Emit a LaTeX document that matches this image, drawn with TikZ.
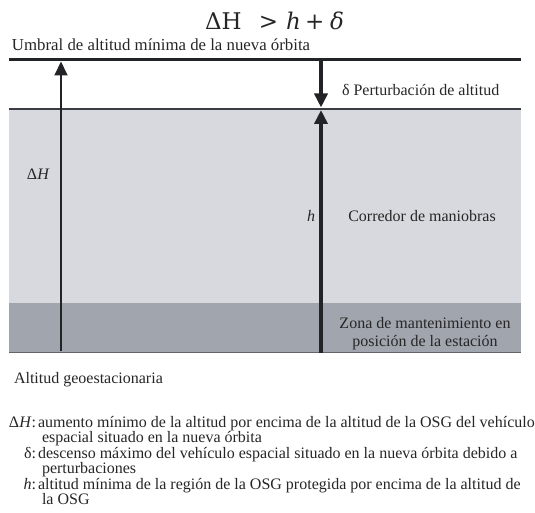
\documentclass[tikz,border=0pt]{standalone}
\usepackage{fontspec}
\setmainfont{Liberation Serif}
\newfontfamily\titlefont{DejaVu Serif}
\usetikzlibrary{arrows.meta}
\definecolor{lightband}{HTML}{D8D9DE}
\definecolor{darkband}{HTML}{A1A6AE}
\definecolor{inkline}{HTML}{222326}
\definecolor{edgeline}{HTML}{3A3D42}
\definecolor{txt}{HTML}{262626}
\tikzset{
  lbl/.style={inner sep=0pt, outer sep=0pt, text=txt, font=\fontsize{16}{16}\selectfont},
  ttl/.style={inner sep=0pt, outer sep=0pt, text=txt, font=\titlefont\fontsize{23}{23}\selectfont},
  tip/.style={-{Triangle[length=14pt,width=13pt]}},
}
\begin{document}
\begin{tikzpicture}[x=1pt,y=1pt]
\useasboundingbox (0,0) rectangle (535,-513);
% bands
\fill[lightband] (9,-109) rectangle (521,-303);
\fill[darkband] (9,-303) rectangle (521,-352);
\draw[edgeline, line width=2pt] (9,-109) -- (521,-109);
\draw[edgeline!80, line width=1.3pt] (9,-352.5) -- (521,-352.5);
% top threshold line
\coordinate (tl) at (9,-60);
\coordinate (tr) at (521,-60);
\draw[inkline, line width=3pt] (tl) -- (tr);
% coordinates for arrows
\coordinate (Hbot) at (61,-351);
\coordinate (Htop) at (61,-61.5);
\coordinate (dtop) at (321,-60);
\coordinate (dbot) at (321,-107.5);
\coordinate (hbot) at (321,-353);
\coordinate (htop) at (321,-110);
\draw[inkline, line width=2pt, tip] (Hbot) -- (Htop);
\draw[inkline, line width=4pt, tip] (dtop) -- (dbot);
\draw[inkline, line width=4pt, tip] (hbot) -- (htop);
% texts
\node[ttl, anchor=base west] (title) at (205,-30) {\makebox[54pt][l]{ΔH}\makebox[27pt][l]{>}\makebox[19pt][l]{\textit{h}}\makebox[25pt][l]{+}\textit{δ}};
\node[lbl, anchor=base west, font=\fontsize{16.8}{16.8}\selectfont] (umbral) at (12,-51) {Umbral de altitud mínima de la nueva órbita};
\node[lbl, anchor=base west] (pert) at (342,-96) {δ Perturbación de altitud};
\node[lbl, anchor=base west] (dH) at (27,-180) {Δ\textit{H}};
\node[lbl, anchor=base east] (hl) at (315,-221) {\textit{h}};
\node[lbl, anchor=base] (corr) at (422,-221) {Corredor de maniobras};
\node[lbl, anchor=base] (zona1) at (425,-328) {Zona de mantenimiento en};
\node[lbl, anchor=base] (zona2) at (425,-346) {posición de la estación};
\node[lbl, anchor=base west] (geo) at (14,-383) {Altitud geoestacionaria};
% legend
\node[lbl, anchor=base east] (k1) at (36,-427) {Δ\textit{H}:};
\node[lbl, anchor=base west] (v1) at (38,-427) {aumento mínimo de la altitud por encima de la altitud de la OSG del vehículo};
\node[lbl, anchor=base west] (v1b) at (42,-442.5) {espacial situado en la nueva órbita};
\node[lbl, anchor=base east] (k2) at (36,-458) {δ:};
\node[lbl, anchor=base west] (v2) at (38,-458) {descenso máximo del vehículo espacial situado en la nueva órbita debido a};
\node[lbl, anchor=base west] (v2b) at (42,-473.5) {perturbaciones};
\node[lbl, anchor=base east] (k3) at (36,-489) {\textit{h}:};
\node[lbl, anchor=base west] (v3) at (38,-489) {altitud mínima de la región de la OSG protegida por encima de la altitud de};
\node[lbl, anchor=base west] (v3b) at (42,-504.5) {la OSG};
\end{tikzpicture}
\end{document}
